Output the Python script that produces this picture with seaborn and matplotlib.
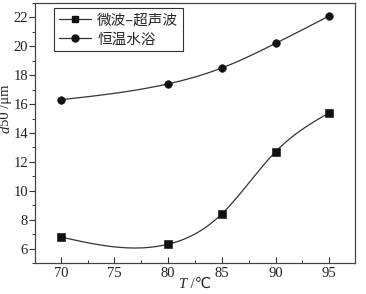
import numpy as np
import matplotlib
matplotlib.use("Agg")
import matplotlib.pyplot as plt
import seaborn as sns
from matplotlib.ticker import MultipleLocator
from matplotlib.lines import Line2D

temps = [70, 80, 85, 90, 95]
micro = [6.8, 6.3, 8.4, 12.7, 15.4]
bath = [16.3, 17.4, 18.5, 20.2, 22.1]
labels = ["微波–超声波", "恒温水浴"]

def nat_spline(x, y, xs):
    x = np.asarray(x, float); y = np.asarray(y, float)
    n = len(x); h = np.diff(x)
    A = np.zeros((n, n)); b = np.zeros(n)
    A[0, 0] = A[-1, -1] = 1
    for i in range(1, n - 1):
        A[i, i - 1] = h[i - 1]; A[i, i] = 2 * (h[i - 1] + h[i]); A[i, i + 1] = h[i]
        b[i] = 3 * ((y[i + 1] - y[i]) / h[i] - (y[i] - y[i - 1]) / h[i - 1])
    c = np.linalg.solve(A, b)
    out = []
    for t in xs:
        i = min(np.searchsorted(x, t) - 1, n - 2); i = max(i, 0)
        d = t - x[i]
        bb = (y[i + 1] - y[i]) / h[i] - h[i] * (2 * c[i] + c[i + 1]) / 3
        dd = (c[i + 1] - c[i]) / (3 * h[i])
        out.append(y[i] + bb * d + c[i] * d ** 2 + dd * d ** 3)
    return np.array(out)

sns.set_theme(style="ticks")
plt.rcParams['font.family'] = ['Liberation Serif', 'DejaVu Sans', 'Noto Sans CJK SC']

fig = plt.figure(figsize=(3.66, 2.94), dpi=100)
ax = fig.add_axes([0.0956, 0.1054, 0.8744, 0.8846])

xs = np.linspace(70, 95, 300)
ax.plot(xs, nat_spline(temps, micro, xs), color='#333333', lw=0.9)
ax.plot(xs, nat_spline(temps, bath, xs), color='#333333', lw=0.9)
sns.scatterplot(x=temps, y=micro, marker='s', s=28, color='#111111', edgecolor='#111111', ax=ax, zorder=3)
sns.scatterplot(x=temps, y=bath, marker='o', s=30, color='#111111', edgecolor='#111111', ax=ax, zorder=3)

handles = [Line2D([], [], color='#333333', lw=0.9, marker='s', ms=5, mfc='#111111', mec='#111111'),
           Line2D([], [], color='#333333', lw=0.9, marker='o', ms=5, mfc='#111111', mec='#111111')]
leg = ax.legend(handles, labels, loc='upper left', bbox_to_anchor=(0.06, 0.98), fancybox=False,
                edgecolor='#333333', framealpha=1, prop={'family': ['Noto Sans CJK SC'], 'size': 10.5},
                handlelength=2.2, borderpad=0.35, labelspacing=0.35, handletextpad=0.4, borderaxespad=0)
leg.get_frame().set_linewidth(0.8)

ax.set_xlim(67.6, 97.4)
ax.set_ylim(5.0, 23.0)
ax.xaxis.set_major_locator(MultipleLocator(5))
ax.xaxis.set_minor_locator(MultipleLocator(2.5))
ax.yaxis.set_major_locator(MultipleLocator(2))
ax.yaxis.set_minor_locator(MultipleLocator(1))
ax.tick_params(axis='x', which='both', direction='in', labelsize=10.5, pad=3, colors='#333333', labelcolor='#222222')
ax.tick_params(axis='y', which='both', direction='out', labelsize=10.5, pad=1, colors='#333333', labelcolor='#222222')
ax.tick_params(which='major', length=4, width=0.8)
ax.tick_params(which='minor', length=2, width=0.7)
for s in ax.spines.values():
    s.set_visible(True); s.set_linewidth(0.9); s.set_color('#444444')

# axis labels (italic symbol + upright unit)
fs = 10.5
fig.text(186/366, 1 - 284/294, 'T', style='italic', fontsize=fs, ha='right', va='center', color='#222222')
fig.text(187/366, 1 - 284/294, ' /℃', fontsize=fs, ha='left', va='center',
         family=['Liberation Serif', 'DejaVu Sans'], color='#222222')
fig.text(6/366, 1 - 126/294, 'd', style='italic', fontsize=fs, ha='center', va='top', rotation=90, color='#222222')
fig.text(6/366, 1 - 126/294, '50 /μm', fontsize=fs, ha='center', va='bottom', rotation=90, color='#222222')

fig.savefig('out.png', dpi=100)
